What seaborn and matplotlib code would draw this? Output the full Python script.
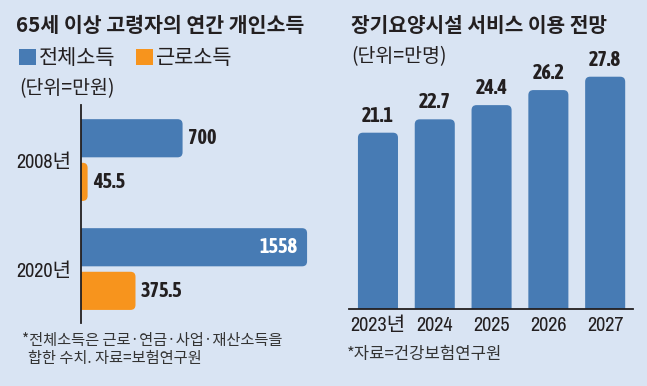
import matplotlib
matplotlib.use('Agg')
import matplotlib.pyplot as plt
from matplotlib.patches import FancyBboxPatch, Patch
import seaborn as sns
import pandas as pd

# left panel: annual personal income of 65+ (unit: 10k won)
income_years = ['2008년', '2020년']
income_kinds = ['전체소득', '근로소득']
total_income = [700, 1558]
labor_income = [45.5, 375.5]

# right panel: long-term care facility usage outlook (unit: 10k persons)
care_years = ['2023년', '2024', '2025', '2026', '2027']
care_users = [21.1, 22.7, 24.4, 26.2, 27.8]

BG = '#d9e4f3'
BLUE = '#477bb4'
ORANGE = '#f7941d'
INK = '#231f20'

sns.set_style('white')
plt.rcParams['font.family'] = ['Noto Sans CJK KR', 'DejaVu Sans']
# condensed faces for the figures, hangul falls through to Noto
NARROW = ['Archivo Narrow', 'Noto Sans CJK KR']
NARROW_BOLD = ['Asap Condensed', 'Archivo Narrow', 'Noto Sans CJK KR']

W, H = 647, 386
fig = plt.figure(figsize=(W / 100, H / 100), dpi=100, facecolor=BG)


def frac(x0, y0, x1, y1):
    # pixel box (top-left origin) -> figure fraction rect
    return [x0 / W, 1 - y1 / H, (x1 - x0) / W, (y1 - y0) / H]


def round_bars(ax, px_radius, horizontal):
    """swap seaborn's bars for rounded ones, hiding the corner on the axis side"""
    fig.canvas.draw()
    inv = ax.transData.inverted()
    p0 = inv.transform((0, 0))
    p1 = inv.transform((1, 1))
    ux, uy = abs(p1[0] - p0[0]), abs(p1[1] - p0[1])
    for p in list(ax.patches):
        x, y, w, h = p.get_x(), p.get_y(), p.get_width(), p.get_height()
        color = p.get_facecolor()
        p.remove()
        if horizontal:
            r = px_radius * ux
            box = FancyBboxPatch((x - r * 2, y), w + r * 2, h,
                                 boxstyle=f'round,pad=0,rounding_size={r}',
                                 mutation_aspect=uy / ux, fc=color, ec='none')
        else:
            r = px_radius * uy
            box = FancyBboxPatch((x, y - r * 2), w, h + r * 2,
                                 boxstyle=f'round,pad=0,rounding_size={px_radius * ux}',
                                 mutation_aspect=uy / ux, fc=color, ec='none')
        box.set_clip_path(ax.patch)
        ax.add_patch(box)


def num_style(t, size, bold=False):
    t.set_fontfamily(NARROW_BOLD if bold else NARROW)
    t.set_fontsize(size)
    t.set_color(INK)
    if bold:
        t.set_fontweight('bold')


# ---------- left: horizontal bars ----------
ax1 = fig.add_axes(frac(81, 105, 330, 323))
ax1.set_facecolor(BG)
income_df = pd.DataFrame({
    'year': income_years * 2,
    'kind': [income_kinds[0]] * 2 + [income_kinds[1]] * 2,
    'value': total_income + labor_income,
})
sns.barplot(data=income_df, y='year', x='value', hue='kind', orient='h',
            palette=[BLUE, ORANGE], width=0.8, gap=0.125, legend=False,
            saturation=1, ax=ax1)
ax1.set_xlim(0, 1716)
ax1.set_ylim(1.495, -0.505)
ax1.set_xlabel('')
ax1.set_ylabel('')
ax1.set_xticks([])
for s in ['top', 'right', 'bottom']:
    ax1.spines[s].set_visible(False)
ax1.spines['left'].set_color(INK)
ax1.spines['left'].set_linewidth(1.3)
ax1.tick_params(axis='y', length=0, pad=7)
for t in ax1.get_yticklabels():
    num_style(t, 14.5)

bar_geo = [(p.get_width(), p.get_y() + p.get_height() / 2) for p in ax1.patches]
round_bars(ax1, 5, horizontal=True)
for (w, yc), val in zip(bar_geo, total_income + labor_income):
    inside = val == max(total_income)
    t = ax1.annotate(f'{val:g}', (w, yc), xytext=(-7 if inside else 4, 0),
                     textcoords='offset points', ha='right' if inside else 'left',
                     va='center')
    num_style(t, 14.5, bold=True)
    if inside:
        t.set_color('white')

# ---------- right: vertical bars ----------
ax2 = fig.add_axes(frac(349, 60, 633, 309))
ax2.set_facecolor(BG)
sns.barplot(x=care_years, y=care_users, color=BLUE, width=0.705,
            saturation=1, ax=ax2)
ax2.set_xlim(-0.51, 4.49)
ax2.set_ylim(0, 29.8)
ax2.set_yticks([])
for s in ['top', 'right', 'left']:
    ax2.spines[s].set_visible(False)
ax2.spines['bottom'].set_color(INK)
ax2.spines['bottom'].set_linewidth(1.3)
ax2.tick_params(axis='x', length=0, pad=5)
for t in ax2.get_xticklabels():
    num_style(t, 14.5)

col_geo = [(p.get_x() + p.get_width() / 2, p.get_height()) for p in ax2.patches]
round_bars(ax2, 5, horizontal=False)
for (xc, h), val in zip(col_geo, care_users):
    t = ax2.annotate(f'{val:.1f}', (xc, h), xytext=(0, 5), textcoords='offset points',
                     ha='center', va='bottom')
    num_style(t, 14.5, bold=True)

# ---------- titles, legend, notes ----------
fig.text(16 / W, 1 - 25 / H, '65세 이상 고령자의 연간 개인소득', fontsize=14.8,
         fontweight='bold', color=INK, va='center', ha='left')
fig.text(351 / W, 1 - 25 / H, '장기요양시설 서비스 이용 전망', fontsize=14.6,
         fontweight='bold', color=INK, va='center', ha='left')

handles = [Patch(fc=BLUE, ec='none', label=income_kinds[0]),
           Patch(fc=ORANGE, ec='none', label=income_kinds[1])]
fig.legend(handles=handles, loc='center left', bbox_to_anchor=(19 / W, 1 - 58 / H),
           ncol=2, frameon=False, prop={'size': 15, 'weight': 'medium'},
           handlelength=0.8, handleheight=0.8, handletextpad=0.15,
           columnspacing=1.0, borderaxespad=0, borderpad=0, labelcolor=INK)

fig.text(19 / W, 1 - 89 / H, '(단위=만원)', fontsize=14, fontweight='medium',
         color=INK, va='center', ha='left')
fig.text(351 / W, 1 - 57 / H, '(단위=만명)', fontsize=14, fontweight='medium',
         color=INK, va='center', ha='left')

fig.text(22 / W, 1 - 340 / H, '*전체소득은 근로·연금·사업·재산소득을', fontsize=11,
         color='#333333', va='center', ha='left')
fig.text(28 / W, 1 - 358 / H, '합한 수치. 자료=보험연구원', fontsize=11,
         color='#333333', va='center', ha='left')
fig.text(347 / W, 1 - 355 / H, '*자료=건강보험연구원', fontsize=12,
         color='#333333', va='center', ha='left')

fig.savefig('out.png', dpi=100, facecolor=BG)
